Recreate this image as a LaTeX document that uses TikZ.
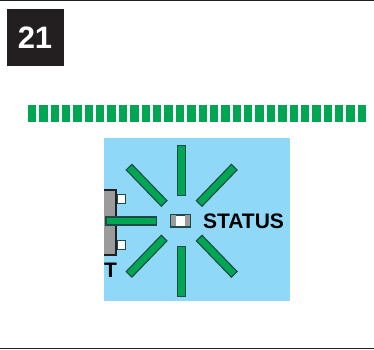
\documentclass[tikz,border=0pt]{standalone}
\usepackage{fontspec}
\setmainfont{Liberation Sans}
\usepackage{tikz}
\usetikzlibrary{positioning}
\definecolor{ledgreen}{HTML}{00A651}
\definecolor{panelblue}{HTML}{8FD8F8}
\definecolor{inkdark}{HTML}{231F20}
\definecolor{bardark}{HTML}{1F4A48}
\definecolor{bodygray}{HTML}{9B9B9B}

\begin{document}
\begin{tikzpicture}[
    x=1pt, y=-1pt,
    stepbadge/.style={rectangle, fill=inkdark, text=white, minimum width=57pt, minimum height=57pt, inner sep=0pt, font=\bfseries\fontsize{31}{31}\selectfont},
    tick/.style={rectangle, fill=ledgreen, minimum width=8.4pt, minimum height=17pt, inner sep=0pt},
    ray/.style={rectangle, fill=ledgreen, draw=bardark, line width=1.1pt, minimum width=50.5pt, minimum height=8pt, inner sep=0pt},
    pin/.style={rectangle, fill=white, draw=bardark, line width=1.1pt, minimum width=8pt, minimum height=8.5pt, inner sep=0pt},
    label/.style={inner sep=0pt, text=black, font=\bfseries\fontsize{21}{21}\selectfont},
    rule/.style={draw=inkdark, line width=1pt}
]
\useasboundingbox (0,0) rectangle (374,349);

% Frame
\coordinate (topl) at (0,0.5);
\coordinate (topr) at (374,0.5);
\coordinate (botl) at (0,348.5);
\coordinate (botr) at (374,348.5);
\draw [rule] (topl) -- (topr);
\draw [rule] (botl) -- (botr);

% Badge
\node (badge) [stepbadge] at (35,37.5) {21};

% Tick row
\foreach \i in {0,...,29}
    \node (tick\i) [tick] at ({32+\i*11.38},113.5) {};

% Panel
\fill [panelblue] (104,138) rectangle (290,301);

% Device
\fill [bodygray] (104,189.5) rectangle (116,255.5);
\draw [inkdark, line width=2.6pt] (104,190) -- (116,190) -- (116,255) -- (104,255);
\node (pintop) [pin] at (121.2,199) {};
\node (pinbot) [pin] at (121.2,245) {};
\node (devlabel) [label] at (110.5,270.5) {T};

% Rays
\node (rayn) [ray, rotate=90] at (181.7,170.5) {};
\node (rays) [ray, rotate=90] at (181.7,271.5) {};
\node (rayw) [ray] at (131.2,221) {};
\node (raynw) [ray, rotate=-46] at (146.6,185.3) {};
\node (rayne) [ray, rotate=46] at (216.7,185.3) {};
\node (raysw) [ray, rotate=46] at (146.6,256.2) {};
\node (rayse) [ray, rotate=-46] at (216.7,256.2) {};

% LED
\node (led) [rectangle, fill=white, draw=bardark, line width=1pt, minimum width=19.5pt, minimum height=11.5pt, inner sep=0pt] at (180.7,221) {};
\fill [bodygray] (led.north west) rectangle ++(5.5,11.5);
\fill [bodygray] (led.north east) rectangle ++(-5.5,11.5);
\draw [bardark, line width=1pt] (led.north west) rectangle (led.south east);

\node (status) [label, anchor=west] at (202.9,221) {STATUS};

\end{tikzpicture}
\end{document}
